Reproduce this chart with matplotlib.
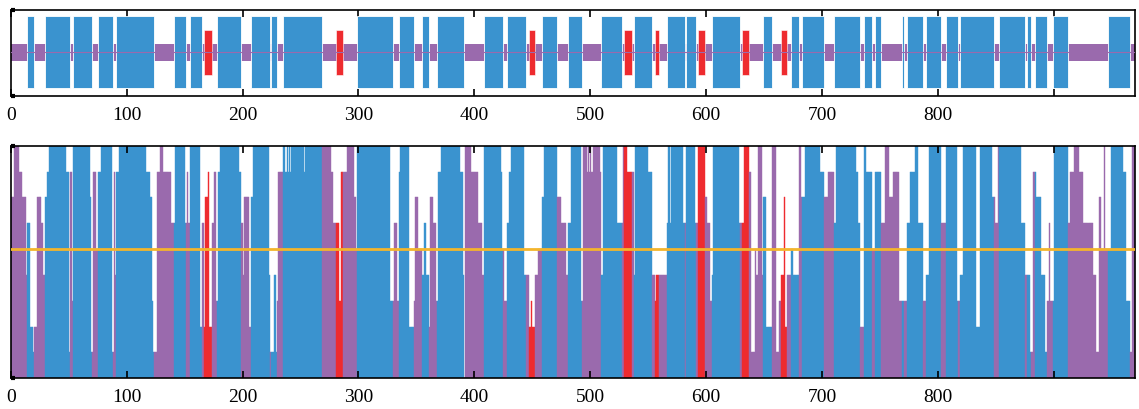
import matplotlib.pyplot as plt
import numpy as np

seq_len = 970

# domain segments (start, end residue)
blue_segments = [(14, 20), (30, 51), (54, 70), (75, 88), (91, 124), (141, 151), (155, 165),
                 (178, 199), (207, 224), (225, 230), (235, 269), (299, 330), (335, 348),
                 (355, 361), (368, 391), (408, 425), (428, 445), (458, 471), (481, 493),
                 (509, 527), (538, 553), (566, 582), (583, 591), (605, 629), (649, 657),
                 (673, 680), (683, 702), (710, 733), (736, 743), (746, 751), (769, 771),
                 (773, 787), (790, 803), (807, 817), (819, 848), (853, 875), (877, 880),
                 (884, 894), (899, 912), (947, 966)]
red_segments = [(167, 174), (281, 287), (447, 452), (529, 536), (556, 559),
                (593, 599), (631, 637), (665, 670)]

# per-residue score levels (0-9), stored as run starts and values
level_start = [0, 3, 7, 10, 13, 14, 17, 19, 20, 23, 26, 28, 30, 31, 33, 48, 50, 51, 53, 54,
               68, 69, 71, 74, 75, 78, 87, 89, 90, 91, 93, 117, 120, 122, 123, 126, 129, 131,
               138, 142, 150, 152, 153, 155, 163, 165, 167, 168, 170, 171, 174, 175, 177, 179,
               181, 197, 199, 200, 201, 206, 207, 209, 223, 224, 227, 229, 230, 231, 235, 237,
               238, 239, 240, 241, 242, 253, 254, 276, 278, 283, 285, 290, 296, 298, 299, 327,
               331, 333, 335, 336, 344, 348, 349, 351, 355, 357, 358, 361, 362, 364, 367, 369,
               371, 388, 390, 391, 392, 397, 403, 407, 408, 423, 424, 426, 428, 430, 432, 443,
               447, 449, 450, 452, 455, 458, 460, 471, 475, 479, 481, 483, 492, 494, 497, 498,
               499, 500, 501, 502, 508, 509, 511, 523, 528, 532, 538, 539, 550, 553, 556, 557,
               566, 567, 569, 570, 580, 583, 590, 593, 599, 601, 603, 605, 606, 628, 633, 637,
               639, 642, 643, 645, 648, 649, 652, 657, 660, 663, 665, 667, 668, 670, 673, 675,
               680, 682, 685, 698, 702, 705, 710, 712, 729, 731, 733, 736, 738, 743, 746, 751,
               754, 758, 761, 766, 773, 776, 780, 783, 787, 790, 792, 803, 807, 816, 819, 822,
               833, 836, 847, 849, 852, 872, 875, 879, 882, 885, 889, 892, 894, 896, 897, 900,
               912, 914, 917, 922, 925, 934, 936, 939, 941, 943, 944, 949, 960, 962, 966, 967]
level_value = [7, 9, 8, 7, 4, 6, 2, 1, 2, 7, 6, 4, 7, 8, 9, 8, 1, 8, 3, 9,
               7, 1, 8, 5, 8, 9, 1, 8, 4, 8, 9, 8, 7, 3, 1, 8, 9, 8,
               6, 9, 6, 8, 6, 9, 2, 6, 2, 7, 8, 2, 6, 8, 3, 8,
               9, 8, 6, 4, 7, 2, 7, 9, 4, 1, 4, 1, 3, 8, 9, 8,
               9, 8, 9, 8, 9, 8, 9, 8, 6, 3, 8, 9, 7, 5, 9, 3,
               6, 3, 8, 9, 2, 3, 7, 5, 4, 6, 4, 2, 7, 6, 3, 8,
               9, 8, 4, 0, 9, 8, 6, 4, 9, 8, 5, 3, 6, 8, 9, 4,
               2, 3, 2, 4, 5, 7, 9, 7, 6, 4, 6, 9, 3, 9, 8, 9,
               8, 9, 8, 9, 8, 4, 9, 6, 9, 8, 4, 9, 8, 4, 3, 4,
               6, 9, 6, 9, 6, 9, 6, 9, 7, 6, 3, 4, 9, 6, 9, 8,
               1, 5, 4, 9, 4, 7, 2, 9, 1, 3, 4, 7, 2, 4, 5, 4,
               9, 7, 9, 8, 7, 8, 6, 9, 8, 6, 2, 9, 8, 5, 8, 6,
               9, 7, 8, 3, 6, 8, 9, 6, 3, 4, 9, 6, 9, 3, 4, 9,
               2, 9, 7, 6, 9, 6, 4, 1, 8, 7, 4, 1, 3, 6, 3, 9,
               6, 8, 9, 8, 6, 4, 1, 7, 5, 9, 5, 9, 8, 3, 1, 9]

threshold = 5
tick_pos = [0, 100, 200, 300, 400, 500, 600, 700, 800, 900]
tick_lab = ['0', '100', '200', '300', '400', '500', '600', '700', '800', '']

c_blue = '#3a93cf'
c_purple = '#9a6aad'
c_red = '#ee2b2f'
c_orange = '#f4b52c'

# expand runs into one value per residue
run_len = np.diff(level_start + [seq_len])
heights = np.repeat(level_value, run_len)
colors = [c_purple] * seq_len
for s, e in blue_segments:
    for i in range(s, min(e, seq_len)):
        colors[i] = c_blue
for s, e in red_segments:
    for i in range(s, min(e, seq_len)):
        colors[i] = c_red

plt.rcParams['font.family'] = 'Liberation Serif'

fig = plt.figure(figsize=(11.39, 4.09), dpi=100)
ax1 = fig.add_axes([0.0094, 0.7653, 0.9871, 0.2103])
ax2 = fig.add_axes([0.0094, 0.0751, 0.9871, 0.5687])


def style_axis(ax):
    ax.set_xlim(0, seq_len)
    ax.set_xticks(tick_pos)
    ax.set_xticklabels(tick_lab, fontsize=14)
    ax.tick_params(axis='x', direction='in', length=5, width=1.2, top=True, pad=8)
    ax.tick_params(axis='y', direction='in', length=3, width=3, left=True)
    for sp in ax.spines.values():
        sp.set_linewidth(1.2)
        sp.set_color('black')


# top track
ax1.set_ylim(0, 1)
ax1.broken_barh([(0, seq_len)], (0.41, 0.195), facecolors=c_purple, zorder=1)
ax1.broken_barh([(s, e - s) for s, e in blue_segments], (0.093, 0.837),
                facecolors=c_blue, edgecolors='white', linewidth=0.6, zorder=2)
ax1.broken_barh([(s, e - s) for s, e in red_segments], (0.244, 0.523),
                facecolors=c_red, edgecolors='white', linewidth=0.4, zorder=3)
ax1.axhline(0.51, color=c_purple, lw=0.8, zorder=4)
ax1.set_yticks([0, 1])
ax1.set_yticklabels([])
style_axis(ax1)

# per-residue bars
ax2.bar(np.arange(seq_len) + 0.5, heights, width=1.0, color=colors,
        edgecolor=colors, linewidth=0.3, zorder=1)
ax2.axhline(threshold, color=c_orange, lw=2, zorder=3)
ax2.set_ylim(0, 9)
ax2.set_yticks([0, 9])
ax2.set_yticklabels([])
style_axis(ax2)

fig.savefig('out.png', dpi=100)
